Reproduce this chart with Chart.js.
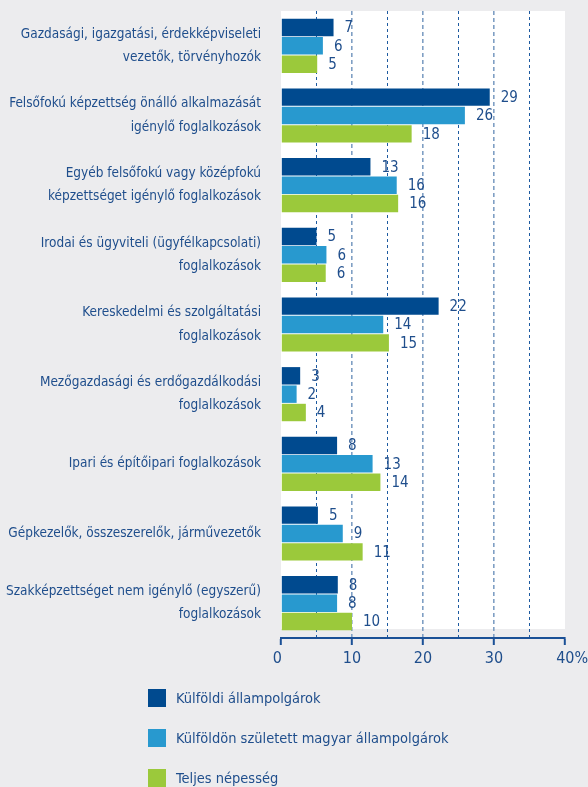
<!DOCTYPE html>
<html>
<head>
<meta charset="utf-8">
<script src="https://cdn.jsdelivr.net/npm/chart.js@4"></script>
<style>
    body { margin: 0; background: #ececee; }
    #wrap { position: relative; width: 588px; height: 787px; }
    #legend { position: absolute; left: 148px; top: 688px; font-family: "Liberation Sans Narrow", "DejaVu Sans Condensed", sans-serif; font-size: 14.5px; color: #1f4e8c; }
    .item { display: flex; align-items: center; height: 20px; margin-bottom: 20px; }
    .box { width: 18px; height: 18px; margin-right: 10px; }
</style>
</head>
<body>
<div id="wrap">
    <canvas id="occupationChart" width="588" height="787"></canvas>
    <div id="legend"></div>
</div>
<script>
// Kategóriák (foglalkozási főcsoportok)
const categories = [
    ["Gazdasági, igazgatási, érdekképviseleti", "vezetők, törvényhozók"],
    ["Felsőfokú képzettség önálló alkalmazását", "igénylő foglalkozások"],
    ["Egyéb felsőfokú vagy középfokú", "képzettséget igénylő foglalkozások"],
    ["Irodai és ügyviteli (ügyfélkapcsolati)", "foglalkozások"],
    ["Kereskedelmi és szolgáltatási", "foglalkozások"],
    ["Mezőgazdasági és erdőgazdálkodási", "foglalkozások"],
    ["Ipari és építőipari foglalkozások"],
    ["Gépkezelők, összeszerelők, járművezetők"],
    ["Szakképzettséget nem igénylő (egyszerű)", "foglalkozások"]
];

const seriesNames = ["Külföldi állampolgárok", "Külföldön született magyar állampolgárok", "Teljes népesség"];

// értékek (%)
const foreignValues = [7.4, 29.4, 12.6, 5.0, 22.2, 2.7, 7.9, 5.2, 8.0];
const bornAbroadValues = [5.9, 25.9, 16.3, 6.4, 14.4, 2.2, 12.9, 8.7, 7.9];
const totalValues = [5.1, 18.4, 16.5, 6.3, 15.2, 3.5, 14.0, 11.5, 10.0];

// feliratok a sávok mellett
const foreignLabels = [7, 29, 13, 5, 22, 3, 8, 5, 8];
const bornAbroadLabels = [6, 26, 16, 6, 14, 2, 13, 9, 8];
const totalLabels = [5, 18, 16, 6, 15, 4, 14, 11, 10];

const xTicks = [0, 10, 20, 30, 40];

const colors = ["#004a8f", "#2899cf", "#9bc93b"];
const textColor = "#1f4e8c";
const fontFamily = '"Liberation Sans Narrow", "DejaVu Sans Condensed", sans-serif';

// fehér háttér a rajzterületnek
const plotBackground = {
    id: "plotBackground",
    beforeDraw(chart) {
        const { ctx, chartArea } = chart;
        ctx.save();
        ctx.fillStyle = "#ffffff";
        ctx.fillRect(chartArea.left, chartArea.top, chartArea.right - chartArea.left, chartArea.bottom - chartArea.top - 9);
        ctx.restore();
    }
};

// értékfeliratok
const valueLabels = {
    id: "valueLabels",
    afterDatasetsDraw(chart) {
        const { ctx } = chart;
        const allLabels = [foreignLabels, bornAbroadLabels, totalLabels];
        ctx.save();
        ctx.font = "15px " + fontFamily;
        ctx.fillStyle = textColor;
        ctx.textAlign = "left";
        ctx.textBaseline = "middle";
        chart.data.datasets.forEach((ds, i) => {
            chart.getDatasetMeta(i).data.forEach((bar, j) => {
                ctx.fillText(allLabels[i][j], bar.x + 11, bar.y + 1);
            });
        });
        ctx.restore();
    }
};

function xLabel(v) {
    if (!xTicks.includes(v)) return "";
    if (v === 0) return "0\u2002";
    if (v === 40) return "\u2002\u200240%";
    return String(v);
}

const ctx = document.getElementById("occupationChart").getContext("2d");
new Chart(ctx, {
    type: "bar",
    data: {
        labels: categories,
        datasets: [
            { label: seriesNames[0], data: foreignValues, backgroundColor: colors[0] },
            { label: seriesNames[1], data: bornAbroadValues, backgroundColor: colors[1] },
            { label: seriesNames[2], data: totalValues, backgroundColor: colors[2] }
        ]
    },
    options: {
        indexAxis: "y",
        responsive: false,
        animation: false,
        categoryPercentage: 0.79,
        barPercentage: 0.95,
        layout: { padding: { top: 11, right: 23, bottom: 109, left: 0 } },
        plugins: {
            legend: { display: false },
            tooltip: { enabled: false }
        },
        scales: {
            x: {
                min: 0,
                max: 40,
                afterFit: s => { s.height = 40; s.paddingLeft = 0; s.paddingRight = 0; },
                ticks: {
                    stepSize: 5,
                    autoSkip: false,
                    maxRotation: 0,
                    padding: 4,
                    color: textColor,
                    font: { family: fontFamily, size: 16 },
                    callback: v => xLabel(v)
                },
                grid: {
                    drawTicks: true,
                    tickLength: 7,
                    tickWidth: 2,
                    tickColor: c => (c.tick && c.tick.value % 10 === 0) ? "#1a5096" : "rgba(0,0,0,0)",
                    color: c => {
                        const v = c.tick ? c.tick.value : 0;
                        if (v === 0 || v === 40) return "rgba(0,0,0,0)";
                        return v % 10 === 0 ? "#7f9fc4" : "#1d5aa0";
                    },
                    lineWidth: c => (c.tick && c.tick.value % 10 === 0) ? 1.6 : 1
                },
                border: {
                    display: true,
                    color: "#1a5096",
                    width: 2,
                    dash: c => (c.tick && c.tick.value % 10 === 0) ? [4, 3] : [3, 3]
                }
            },
            y: {
                afterFit: s => { s.width = 281; s.paddingTop = 0; s.paddingBottom = 0; },
                ticks: {
                    padding: 20,
                    color: textColor,
                    font: { family: fontFamily, size: 13.5, lineHeight: 1.75 }
                },
                grid: { display: false, drawTicks: false },
                border: { display: false }
            }
        }
    },
    plugins: [plotBackground, valueLabels]
});

// jelmagyarázat
const legendEl = document.getElementById("legend");
seriesNames.forEach((name, i) => {
    const item = document.createElement("div");
    item.classList.add("item");
    item.innerHTML = `<div class="box" style="background:${colors[i]}"></div><span>${name}</span>`;
    legendEl.appendChild(item);
});
</script>
</body>
</html>
